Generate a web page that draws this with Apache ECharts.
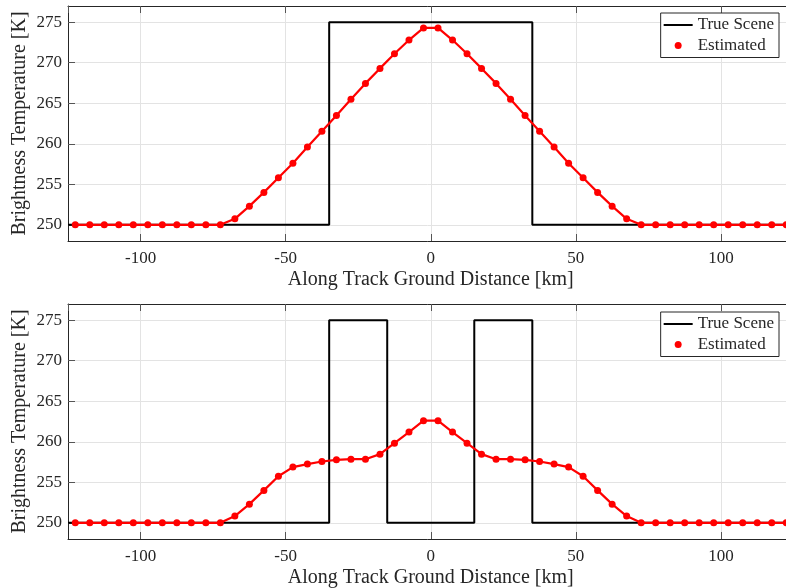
<!DOCTYPE html>
<html>
<head>
<meta charset="utf-8">
<script src="https://cdn.jsdelivr.net/npm/echarts@6/dist/echarts.min.js"></script>
<style>
html,body{margin:0;padding:0;background:#fff;}
#chart{width:786px;height:588px;}
</style>
</head>
<body>
<div id="chart"></div>
<script>
// ---- Data ----
const xEstimated = [-122.5,-117.5,-112.5,-107.5,-102.5,-97.5,-92.5,-87.5,-82.5,-77.5,
  -72.5,-67.5,-62.5,-57.5,-52.5,-47.5,-42.5,-37.5,-32.5,-27.5,-22.5,-17.5,-12.5,-7.5,-2.5,
  2.5,7.5,12.5,17.5,22.5,27.5,32.5,37.5,42.5,47.5,52.5,57.5,62.5,67.5,72.5,
  77.5,82.5,87.5,92.5,97.5,102.5,107.5,112.5,117.5,122.5];

const estimatedTop = [250,250,250,250,250,250,250,250,250,250,
  250,250.74,252.3,254.0,255.8,257.6,259.6,261.55,263.5,265.5,267.45,269.3,271.1,272.8,274.3,
  274.3,272.8,271.1,269.3,267.45,265.5,263.5,261.55,259.6,257.6,255.8,254.0,252.3,250.74,250,
  250,250,250,250,250,250,250,250,250,250];

const estimatedBottom = [250,250,250,250,250,250,250,250,250,250,
  250,250.83,252.3,254.0,255.75,256.87,257.24,257.56,257.77,257.85,257.85,258.47,259.83,261.2,262.6,
  262.6,261.2,259.83,258.47,257.85,257.85,257.77,257.56,257.24,256.87,255.75,254.0,252.3,250.83,250,
  250,250,250,250,250,250,250,250,250,250];

const trueXTop = [-125,-35,-35,35,35,125];
const trueYTop = [250,250,275,275,250,250];
const trueXBottom = [-125,-35,-35,-15,-15,15,15,35,35,125];
const trueYBottom = [250,250,275,275,250,250,275,275,250,250];

const xRange = [-125, 125];
const yRange = [248, 277];
const xTitle = 'Along Track Ground Distance [km]';
const yTitle = 'Brightness Temperature [K]';
const legendNames = ['True Scene', 'Estimated'];

// ---- Build ----
const FONT = 'Liberation Serif';
const TXT = '#262626';
const pairs = (xs, ys) => xs.map((x, i) => [x, ys[i]]);

const grids = [
  {left: 68, top: 6, width: 725.5, height: 235, outerBoundsMode: 'none', containLabel: false},
  {left: 68, top: 304, width: 725.5, height: 235, outerBoundsMode: 'none', containLabel: false}
];

function xAxes(gi) {
  return [
    {
      type: 'value', gridIndex: gi, min: xRange[0], max: xRange[1], splitNumber: 5,
      position: 'bottom',
      name: xTitle, nameLocation: 'middle', nameGap: 29, nameMoveOverlap: false,
      nameTextStyle: {fontFamily: FONT, fontSize: 20, color: TXT},
      axisLine: {show: true, onZero: false, lineStyle: {color: TXT, width: 1}},
      axisTick: {show: true, inside: true, length: 7, lineStyle: {color: '#555', width: 1}},
      axisLabel: {show: true, margin: 9, fontFamily: FONT, fontSize: 17, color: TXT,
        showMinLabel: false, showMaxLabel: false},
      splitLine: {show: true, lineStyle: {color: '#e3e3e3', width: 1}}
    },
    {
      type: 'value', gridIndex: gi, min: xRange[0], max: xRange[1], splitNumber: 5,
      position: 'top',
      axisLine: {show: true, onZero: false, lineStyle: {color: TXT, width: 1}},
      axisTick: {show: true, inside: true, length: 7, lineStyle: {color: '#555', width: 1}},
      axisLabel: {show: false},
      splitLine: {show: false}
    }
  ];
}

function yAxis(gi) {
  return {
    type: 'value', gridIndex: gi, min: yRange[0], max: yRange[1], splitNumber: 6,
    name: yTitle, nameLocation: 'middle', nameGap: 38, nameRotate: 90, nameMoveOverlap: false,
    nameTextStyle: {fontFamily: FONT, fontSize: 20, color: TXT},
    axisLine: {show: true, onZero: false, lineStyle: {color: TXT, width: 1}},
    axisTick: {show: true, inside: true, length: 7, lineStyle: {color: '#555', width: 1}},
    axisLabel: {show: true, margin: 6, fontFamily: FONT, fontSize: 17, color: TXT,
      showMinLabel: false, showMaxLabel: false},
    splitLine: {show: true, lineStyle: {color: '#e3e3e3', width: 1}}
  };
}

function legend(gi, top) {
  return {
    orient: 'vertical', right: 7, top: top,
    padding: [3, 5, 3, 3],
    itemWidth: 29, itemHeight: 7, itemGap: 2.5,
    symbolKeepAspect: true,
    backgroundColor: '#fff', borderColor: TXT, borderWidth: 1, borderRadius: 0,
    textStyle: {fontFamily: FONT, fontSize: 17, color: TXT, lineHeight: 18},
    selectedMode: false,
    data: [
      {name: legendNames[0] + (gi ? ' ' : ''), icon: 'path://M0,0 H29 V2 H0 Z'},
      {name: legendNames[1] + (gi ? ' ' : ''), icon: 'circle'}
    ],
    formatter: n => n.trim()
  };
}

function seriesFor(gi, tx, ty, est) {
  const suffix = gi ? ' ' : '';
  return [
    {
      name: legendNames[0] + suffix, type: 'line', xAxisIndex: gi * 2, yAxisIndex: gi,
      data: pairs(tx, ty), symbol: 'none', showSymbol: false,
      lineStyle: {color: '#000', width: 2}, itemStyle: {color: '#000'},
      animation: false, z: 2
    },
    {
      name: legendNames[1] + suffix, type: 'line', xAxisIndex: gi * 2, yAxisIndex: gi,
      data: pairs(xEstimated, est), symbol: 'circle', symbolSize: 7, showSymbol: true,
      lineStyle: {color: '#ff0000', width: 2.2}, itemStyle: {color: '#ff0000'},
      animation: false, z: 3
    }
  ];
}

const chart = echarts.init(document.getElementById('chart'), null, {renderer: 'canvas'});
chart.setOption({
  animation: false,
  backgroundColor: '#fff',
  grid: grids,
  xAxis: [...xAxes(0), ...xAxes(1)].map((a, i) => Object.assign(a, {gridIndex: Math.floor(i / 2)})),
  yAxis: [yAxis(0), yAxis(1)],
  legend: [legend(0, 13), legend(1, 312)],
  series: [
    ...seriesFor(0, trueXTop, trueYTop, estimatedTop),
    ...seriesFor(1, trueXBottom, trueYBottom, estimatedBottom)
  ]
});
</script>
</body>
</html>
